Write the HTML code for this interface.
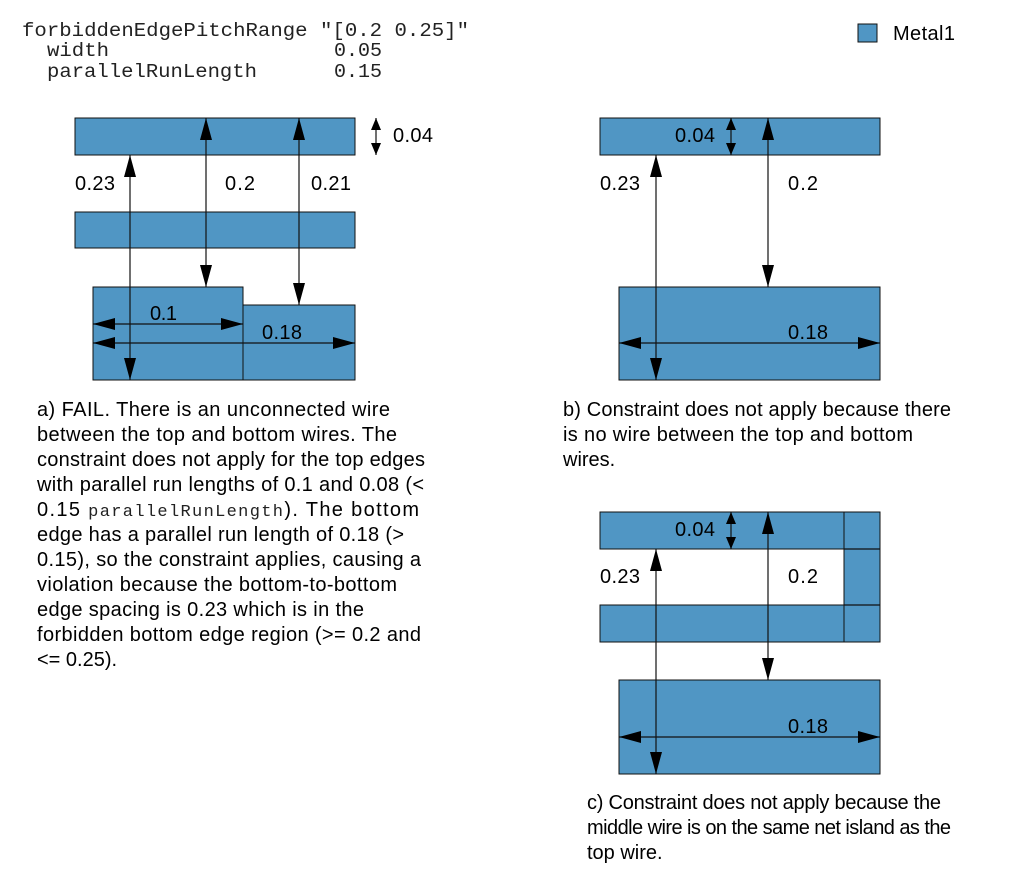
<!DOCTYPE html>
<html><head><meta charset="utf-8"><style>
html,body{margin:0;padding:0;background:#fff;}
svg{display:block;}
.m{font-family:"Liberation Mono",monospace;font-size:19px;fill:#222;}
.s{font-family:"Liberation Sans",sans-serif;font-size:20px;fill:#000;}
.r{fill:#5096c4;stroke:#111;stroke-width:1;}
.l{stroke:#111;stroke-width:1.2;}
</style></head><body>
<svg width="1013" height="886" viewBox="0 0 1013 886" xmlns="http://www.w3.org/2000/svg">
<defs>
<marker id="a" viewBox="0 0 22 12" refX="22" refY="6" markerWidth="22" markerHeight="12" markerUnits="userSpaceOnUse" orient="auto-start-reverse"><path d="M0,0 L22,6 L0,12 Z" fill="#000"/></marker>
<marker id="b" viewBox="0 0 12 10" refX="12" refY="5" markerWidth="12" markerHeight="10" markerUnits="userSpaceOnUse" orient="auto-start-reverse"><path d="M0,0 L12,5 L0,10 Z" fill="#000"/></marker>
</defs>
<text class="m" x="22" y="36" textLength="447" lengthAdjust="spacingAndGlyphs">forbiddenEdgePitchRange "[0.2 0.25]"</text>
<text class="m" x="47" y="56" textLength="62" lengthAdjust="spacingAndGlyphs">width</text>
<text class="m" x="334" y="56" textLength="48" lengthAdjust="spacingAndGlyphs">0.05</text>
<text class="m" x="47" y="77" textLength="210" lengthAdjust="spacingAndGlyphs">parallelRunLength</text>
<text class="m" x="334" y="77" textLength="48" lengthAdjust="spacingAndGlyphs">0.15</text>
<rect class="r" x="858" y="24" width="19" height="18"/>
<text class="s" x="893" y="40" textLength="62">Metal1</text>

<!-- panel a -->
<rect class="r" x="75" y="118" width="280" height="37"/>
<rect class="r" x="75" y="212" width="280" height="36"/>
<rect class="r" x="93" y="287" width="150" height="93"/>
<rect class="r" x="243" y="305" width="112" height="75"/>
<line class="l" x1="130" y1="155" x2="130" y2="380" marker-start="url(#a)" marker-end="url(#a)"/>
<line class="l" x1="206" y1="118" x2="206" y2="287" marker-start="url(#a)" marker-end="url(#a)"/>
<line class="l" x1="299" y1="118" x2="299" y2="305" marker-start="url(#a)" marker-end="url(#a)"/>
<line class="l" x1="93" y1="324" x2="243" y2="324" marker-start="url(#a)" marker-end="url(#a)"/>
<line class="l" x1="93" y1="343" x2="355" y2="343" marker-start="url(#a)" marker-end="url(#a)"/>
<line class="l" x1="376" y1="118" x2="376" y2="155" marker-start="url(#b)" marker-end="url(#b)"/>
<text class="s" x="393" y="142" textLength="40">0.04</text>
<text class="s" x="75" y="190" textLength="40">0.23</text>
<text class="s" x="225" y="190" textLength="30">0.2</text>
<text class="s" x="311" y="190" textLength="40">0.21</text>
<text class="s" x="150" y="320" textLength="27">0.1</text>
<text class="s" x="262" y="339" textLength="40">0.18</text>
<g class="s">
<text x="37" y="416" textLength="353">a) FAIL. There is an unconnected wire</text>
<text x="37" y="441" textLength="360">between the top and bottom wires. The</text>
<text x="37" y="466" textLength="388">constraint does not apply for the top edges</text>
<text x="37" y="491" textLength="387">with parallel run lengths of 0.1 and 0.08 (&lt;</text>
<text x="37" y="516" textLength="382">0.15 <tspan style="font-family:'Liberation Mono',monospace;font-size:17px;fill:#222">parallelRunLength</tspan>). The bottom</text>
<text x="37" y="541" textLength="367">edge has a parallel run length of 0.18 (&gt;</text>
<text x="37" y="566" textLength="384">0.15), so the constraint applies, causing a</text>
<text x="37" y="591" textLength="360">violation because the bottom-to-bottom</text>
<text x="37" y="616" textLength="327">edge spacing is 0.23 which is in the</text>
<text x="37" y="641" textLength="384">forbidden bottom edge region (&gt;= 0.2 and</text>
<text x="37" y="666">&lt;= 0.25).</text>
</g>

<!-- panel b -->
<rect class="r" x="600" y="118" width="280" height="37"/>
<rect class="r" x="619" y="287" width="261" height="93"/>
<line class="l" x1="656" y1="155" x2="656" y2="380" marker-start="url(#a)" marker-end="url(#a)"/>
<line class="l" x1="768" y1="118" x2="768" y2="287" marker-start="url(#a)" marker-end="url(#a)"/>
<line class="l" x1="619" y1="343" x2="880" y2="343" marker-start="url(#a)" marker-end="url(#a)"/>
<line class="l" x1="731" y1="118" x2="731" y2="155" marker-start="url(#b)" marker-end="url(#b)"/>
<text class="s" x="675" y="142" textLength="40">0.04</text>
<text class="s" x="600" y="190" textLength="40">0.23</text>
<text class="s" x="788" y="190" textLength="30">0.2</text>
<text class="s" x="788" y="339" textLength="40">0.18</text>
<g class="s">
<text x="563" y="416" textLength="388">b) Constraint does not apply because there</text>
<text x="563" y="441" textLength="350">is no wire between the top and bottom</text>
<text x="563" y="466">wires.</text>
</g>

<!-- panel c -->
<rect class="r" x="600" y="512" width="280" height="37"/>
<rect class="r" x="600" y="605" width="280" height="37"/>
<rect class="r" x="844" y="512" width="36" height="130"/>
<line class="l" x1="844" y1="549" x2="880" y2="549"/>
<line class="l" x1="844" y1="605" x2="880" y2="605"/>
<rect class="r" x="619" y="680" width="261" height="94"/>
<line class="l" x1="656" y1="549" x2="656" y2="774" marker-start="url(#a)" marker-end="url(#a)"/>
<line class="l" x1="768" y1="512" x2="768" y2="680" marker-start="url(#a)" marker-end="url(#a)"/>
<line class="l" x1="619" y1="737" x2="880" y2="737" marker-start="url(#a)" marker-end="url(#a)"/>
<line class="l" x1="731" y1="512" x2="731" y2="549" marker-start="url(#b)" marker-end="url(#b)"/>
<text class="s" x="675" y="536" textLength="40">0.04</text>
<text class="s" x="600" y="583" textLength="40">0.23</text>
<text class="s" x="788" y="583" textLength="30">0.2</text>
<text class="s" x="788" y="733" textLength="40">0.18</text>
<g class="s">
<text x="587" y="809" textLength="354">c) Constraint does not apply because the</text>
<text x="587" y="834" textLength="364">middle wire is on the same net island as the</text>
<text x="587" y="859">top wire.</text>
</g>
</svg>
</body></html>
